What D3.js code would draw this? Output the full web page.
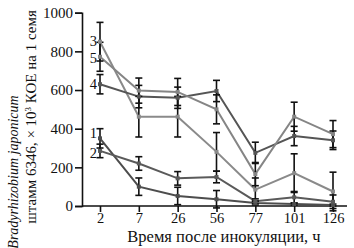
<!DOCTYPE html>
<html>
<head>
<meta charset="utf-8">
<script src="https://cdn.jsdelivr.net/npm/d3@7"></script>
<style>
  body { margin: 0; background: #fff; }
  svg text { font-family: "Liberation Serif", "Times New Roman", "DejaVu Serif", serif; }
</style>
</head>
<body>
<div id="chart"></div>
<script>
// data
const hours = ['2', '7', '26', '56', '77', '101', '126'];
const yTicks = [0, 200, 400, 600, 800, 1000];

const s1 = [350, 100, 52, 35, 15, 10, 5];
const s1Err = [50, 45, 45, 45, 10, 6, 5];
const s2 = [285, 220, 143, 150, 25, 45, 22];
const s2Err = [35, 35, 35, 30, 12, 30, 35];
const s3 = [850, 462, 462, 280, 85, 170, 75];
const s3Err = [100, 105, 105, 100, 60, 100, 100];
const s4 = [630, 566, 560, 595, 275, 362, 340];
const s4Err = [50, 58, 55, 55, 55, 50, 48];
const s5 = [772, 597, 590, 500, 165, 462, 372];
const s5Err = [75, 65, 70, 75, 60, 75, 70];

const seriesNames = ['1', '2', '3', '4', '5'];
const seriesColors = ['#4d4d4d', '#5a5a5a', '#8a8a8a', '#555555', '#858585'];
const labelShift = [-5, 2, -1, 0, 1];   // nudge so the numbers don't collide

const series = [s1, s2, s3, s4, s5].map((vals, i) => ({
    name: seriesNames[i],
    color: seriesColors[i],
    shift: labelShift[i],
    values: vals.map((v, j) => ({
        hour: hours[j],
        value: v,
        err: [s1Err, s2Err, s3Err, s4Err, s5Err][i][j]
    }))
}));

const width = 354, height = 248;

const svg = d3.select('#chart').append('svg')
    .attr('width', width)
    .attr('height', height);

const x = d3.scalePoint()
    .domain(hours)
    .range([100, 333]);

const y = d3.scaleLinear()
    .domain([0, 1000])
    .range([206, 12.7]);

// axes
const yAxis = svg.append('g')
    .attr('transform', 'translate(82,0)')
    .call(d3.axisLeft(y).tickValues(yTicks).tickFormat(d3.format('d')).tickSize(7).tickPadding(2));
yAxis.attr('font-size', 15);
yAxis.select('.domain').attr('stroke', '#111').attr('stroke-width', 1.6);
yAxis.selectAll('.tick line').attr('stroke', '#111').attr('stroke-width', 1.6);
yAxis.selectAll('text').attr('fill', '#111');

const xAxis = svg.append('g')
    .attr('transform', 'translate(0,206)')
    .call(d3.axisBottom(x).tickSize(6).tickPadding(1).tickSizeOuter(0));
xAxis.attr('font-size', 14.5);
xAxis.select('.domain')
    .attr('d', 'M82,0H347')
    .attr('stroke', '#111').attr('stroke-width', 1.6);
xAxis.selectAll('.tick line').attr('stroke', '#111').attr('stroke-width', 1.6);
xAxis.selectAll('text').attr('fill', '#111');

// lines
const line = d3.line()
    .x(d => x(d.hour))
    .y(d => y(d.value));

svg.append('g')
    .selectAll('path')
    .data(series)
    .enter().append('path')
    .attr('d', d => line(d.values))
    .attr('fill', 'none')
    .attr('stroke', d => d.color)
    .attr('stroke-width', 2);

// error bars
const bars = svg.append('g')
    .attr('stroke', '#111')
    .attr('stroke-width', 1.6);
series.forEach(s => {
    s.values.forEach(d => {
        const cx = x(d.hour);
        bars.append('line')
            .attr('x1', cx).attr('x2', cx)
            .attr('y1', y(d.value - d.err)).attr('y2', y(d.value + d.err));
        [d.value - d.err, d.value + d.err].forEach(v => {
            bars.append('line')
                .attr('x1', cx - 3.5).attr('x2', cx + 3.5)
                .attr('y1', y(v)).attr('y2', y(v));
        });
    });
});

// markers
svg.append('g')
    .selectAll('g')
    .data(series)
    .enter().append('g')
    .attr('fill', d => d.color)
    .selectAll('rect')
    .data(d => d.values)
    .enter().append('rect')
    .attr('x', d => x(d.hour) - 2)
    .attr('y', d => y(d.value) - 2)
    .attr('width', 4)
    .attr('height', 4);

// series numbers beside the first point
svg.append('g')
    .selectAll('text')
    .data(series)
    .enter().append('text')
    .attr('x', d => x(d.values[0].hour) - 3)
    .attr('y', d => y(d.values[0].value) + d.shift)
    .attr('dy', '0.35em')
    .attr('text-anchor', 'end')
    .attr('font-size', 14.5)
    .attr('fill', '#111')
    .text(d => d.name);

// axis titles
svg.append('text')
    .attr('x', 224)
    .attr('y', 242)
    .attr('text-anchor', 'middle')
    .attr('font-size', 16.5)
    .attr('fill', '#111')
    .text('Время после инокуляции, ч');

svg.append('text')
    .attr('transform', 'translate(18,172) rotate(-90)')
    .attr('text-anchor', 'middle')
    .attr('font-size', 14)
    .attr('font-style', 'italic')
    .attr('fill', '#111')
    .text('Bradyrhizobium japonicum');

const ylab = svg.append('text')
    .attr('transform', 'translate(36,117) rotate(-90)')
    .attr('text-anchor', 'middle')
    .attr('font-size', 15)
    .attr('fill', '#111');
ylab.append('tspan').text('штамм 6346, × 10');
ylab.append('tspan').attr('dy', '-5').attr('font-size', 9).text('3');
ylab.append('tspan').attr('dy', '5').text(' КОЕ на 1 семя');
</script>
</body>
</html>
